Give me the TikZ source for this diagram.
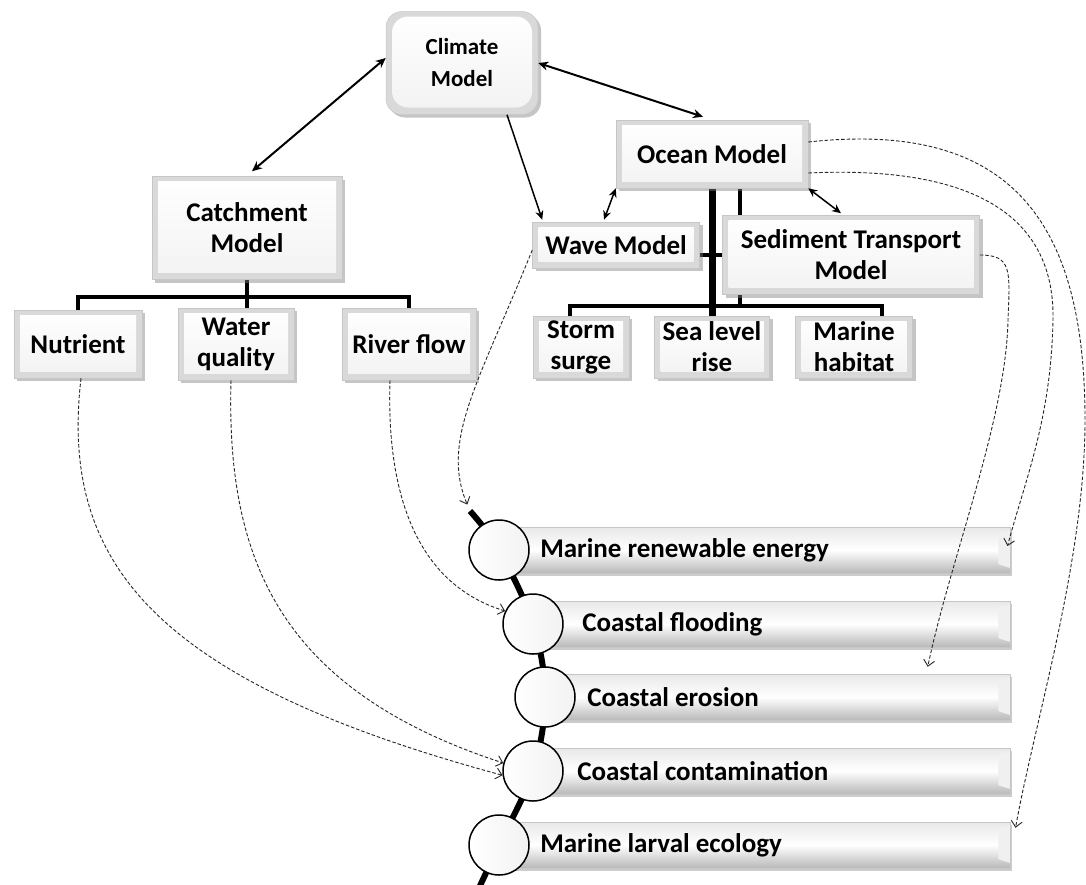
\documentclass[tikz,border=0pt]{standalone}
\usepackage{fontspec}
\setmainfont{Carlito}
\usetikzlibrary{arrows.meta,shadows,backgrounds,calc}
\begin{document}
\begin{tikzpicture}[x=1pt,y=-1pt,
  boxfont/.style={font=\fontsize{27}{31}\selectfont\bfseries},
  mbox/.style={draw=gray!45, line width=0.5pt, fill=gray!30, align=center, inner sep=0pt,
     drop shadow={shadow xshift=3pt,shadow yshift=-3pt,opacity=0.45,fill=gray},
     boxfont,
     path picture={\shade[top color=white,bottom color=gray!10]
        ([xshift=6pt,yshift=-5pt]path picture bounding box.north west) rectangle
        ([xshift=-6pt,yshift=7pt]path picture bounding box.south east);}},
  lbar/.style={anchor=west, minimum width=#1, text width=#1, minimum height=46pt,
     inner sep=0pt, align=flush left, boxfont, draw=gray!45, line width=0.5pt,
     top color=gray!18, bottom color=gray!55, middle color=white,
     drop shadow={shadow xshift=2pt,shadow yshift=-3pt,opacity=0.4,fill=gray},
     path picture={\fill[gray!12]
        ([xshift=-12pt,yshift=-6pt]path picture bounding box.north east) --
        ([yshift=-3pt]path picture bounding box.north east) --
        ([yshift=5pt]path picture bounding box.south east) --
        ([xshift=-12pt,yshift=9pt]path picture bounding box.south east) -- cycle;}},
  circ/.style={circle, draw=black, line width=1.5pt, minimum size=60pt, inner sep=0pt,
     left color=white, right color=gray!10},
  brk/.style={line width=4pt},
  biarrow/.style={line width=2pt, {Stealth[length=10pt,width=9pt]}-{Stealth[length=10pt,width=9pt]}},
  biarrowb/.style={line width=1.5pt, {Stealth[length=9pt,width=8pt]}-{Stealth[length=9pt,width=8pt]}},
  uarrow/.style={line width=1.5pt, -{Stealth[length=9pt,width=8pt]}},
  darrow/.style={line width=0.9pt, black!85, dash pattern=on 3.5pt off 2pt,
     -{Straight Barb[length=6pt,width=11pt]}}
]
\useasboundingbox (0,0) rectangle (1086,884);
\begin{pgfonlayer}{background}
\fill[white] (0,0) rectangle (1086,884);
\end{pgfonlayer}

% model boxes
\node[mbox, rounded corners=16pt, minimum width=152pt, minimum height=103pt,
      font=\fontsize{23}{32}\selectfont\bfseries] (climate) at (462,63) {Climate\\Model};
\node[mbox, minimum width=190pt, minimum height=103pt] (catch) at (247,228) {Catchment\\Model};
\node[mbox, minimum width=128pt, minimum height=68pt] (nutr) at (78,344) {Nutrient};
\node[mbox, minimum width=116pt, minimum height=72pt] (water) at (236,344) {Water\\quality};
\node[mbox, minimum width=134pt, minimum height=72pt] (river) at (409,344) {River flow};
\node[mbox, minimum width=192pt, minimum height=68pt] (ocean) at (712,154) {Ocean Model};
\node[mbox, minimum width=167pt, minimum height=46pt] (wave) at (616,245) {Wave Model};
\node[mbox, minimum width=257pt, minimum height=79pt] (sed) at (851,255) {Sediment Transport\\Model};
\node[mbox, minimum width=96pt, minimum height=62pt] (storm) at (581,347) {Storm\\surge};
\node[mbox, minimum width=115pt, minimum height=62pt] (sea) at (712,347) {Sea level\\rise};
\node[mbox, minimum width=117pt, minimum height=62pt] (habit) at (854,347) {Marine\\habitat};

% impact list circles
\node[circ] (c1) at (499,550) {};
\node[circ] (c2) at (533,624) {};
\node[circ] (c3) at (545,697) {};
\node[circ] (c4) at (533,771) {};
\node[circ] (c5) at (499,845) {};
\coordinate (bbtop) at (470,511);
\coordinate (bbbot) at (478,890);

\begin{pgfonlayer}{background}
  % hierarchy lines
  \coordinate (cj) at (247,297);
  \draw[brk] (nutr.north) |- (cj) -| (river.north);
  \draw[brk] (catch.south) -- (catch.south |- water.north);
  \coordinate (oj) at (712,306);
  \draw[brk] ([xshift=-11pt]storm.north) |- (oj) -| ([xshift=28pt]habit.north);
  \draw[line width=7pt] (ocean.south) -- (sea.north);
  \draw[brk] ([xshift=28pt]ocean.south) -- ([xshift=28pt]ocean.south |- oj);
  \draw[brk] ([yshift=-10pt]wave.east) -- ([yshift=-10pt]wave.east -| sed.west);
  % backbone
  \draw[line width=6pt] plot[smooth, tension=0.6] coordinates
     {(bbtop) (c1.center) (c2.center) (c3.center) (c4.center) (c5.center) (bbbot)};
  % bars
  \node[lbar=511pt] (b1) at (c1.center) {\hspace*{41pt}Marine renewable energy};
  \node[lbar=477pt] (b2) at (c2.center) {\hspace*{49pt}Coastal flooding};
  \node[lbar=465pt] (b3) at (c3.center) {\hspace*{42pt}Coastal erosion};
  \node[lbar=477pt] (b4) at (c4.center) {\hspace*{44pt}Coastal contamination};
  \node[lbar=511pt] (b5) at (c5.center) {\hspace*{41pt}Marine larval ecology};
\end{pgfonlayer}

% solid arrows
\draw[biarrow] ([yshift=5pt]climate.west) -- ([xshift=5pt,yshift=5pt]catch.north);
\draw[biarrow] (climate.east) -- ([xshift=-9pt,yshift=3pt]ocean.north);
\draw[uarrow] ([xshift=45pt]climate.south) -- ([xshift=10pt,yshift=2pt]wave.north west);
\draw[biarrowb] (ocean.south west) -- ([xshift=-12pt,yshift=2pt]wave.north);
\draw[biarrowb] (ocean.south east) -- ([xshift=-10pt,yshift=2pt]sed.north);

% dashed influence arrows
\draw[darrow, shorten >=7pt] ([yshift=-5pt]wave.west) .. controls (480,380) and (440,440) .. (bbtop);
\draw[darrow] ([xshift=-19pt]river.south) .. controls (386,500) and (420,585) .. (c2.155);
\draw[darrow] ([xshift=-5pt]water.south) .. controls (226,560) and (280,690) .. (c4.165);
\draw[darrow] ([xshift=3pt]nutr.south) .. controls (60,560) and (150,680) .. (c4.188);
\draw[darrow] ([yshift=12pt]ocean.east) .. controls (1010,120) and (1085,220) .. (1085,420)
   .. controls (1085,560) and (1035,720) .. ([xshift=5pt,yshift=-6pt]b5.north east);
\draw[darrow] ([yshift=-19pt]ocean.east) .. controls (980,165) and (1055,220) .. (1053,320)
   .. controls (1051,420) and (1025,480) .. ([xshift=-3pt,yshift=4pt]b1.east);
\draw[darrow] (sed.east) .. controls (1012,255) and (1010,270) .. (1008,320)
   .. controls (1006,420) and (950,560) .. ([xshift=150pt,yshift=7pt]b3.north);
\end{tikzpicture}
\end{document}
